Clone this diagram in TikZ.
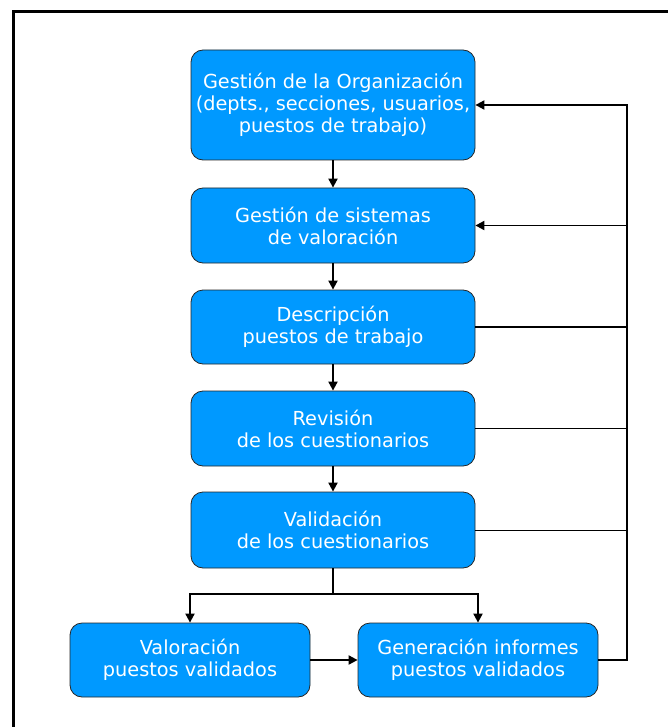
\documentclass[tikz,border=0pt]{standalone}
\usepackage{fontspec}
\setmainfont{DejaVu Sans}
\usetikzlibrary{arrows.meta}
\definecolor{boxblue}{RGB}{0,153,255}

\tikzset{
    proc/.style={draw=black!85, line width=0.8pt, fill=boxblue, rounded corners=12pt,
        text=white, align=center, font=\fontsize{19.3}{22}\selectfont,
        minimum width=284pt, inner sep=0pt},
    flow/.style={line width=1.9pt, -{Triangle[length=9pt,width=9pt]}},
    bus/.style={line width=1.9pt}
}

\begin{document}
\begin{tikzpicture}[x=1pt,y=-1pt]
    \useasboundingbox (0,0) rectangle (668,727);
    % Draw frame
    \draw [line width=3pt] (13,727) |- (668,12);
    % Draw boxes
    \node (org) [proc, minimum height=110pt] at (333,105)
        {Gestión de la Organización\\(depts., secciones, usuarios,\\puestos de trabajo)};
    \node (sist) [proc, minimum height=75pt] at (333,225.5)
        {Gestión de sistemas\\de valoración};
    \node (desc) [proc, minimum height=74pt] at (333,327)
        {Descripción\\puestos de trabajo};
    \node (rev) [proc, minimum height=75pt] at (333,428.5)
        {Revisión\\de los cuestionarios};
    \node (valid) [proc, minimum height=76pt] at (333,530)
        {Validación\\de los cuestionarios};
    \node (valor) [proc, minimum width=240pt, minimum height=74pt] at (190,660)
        {Valoración\\puestos validados};
    \node (infor) [proc, minimum width=240pt, minimum height=74pt] at (478,660)
        {Generación informes\\puestos validados};
    % Draw main chain
    \draw [flow] (org) -- (sist);
    \draw [flow] (sist) -- (desc);
    \draw [flow] (desc) -- (rev);
    \draw [flow] (rev) -- (valid);
    % Split below validation
    \coordinate (split) at (333,594);
    \draw [bus] (valid) -- (split);
    \draw [flow] (split) -| (valor.north);
    \draw [flow] (split) -| (infor.north);
    \draw [flow] (valor) -- (infor);
    % Draw feedback bus on the right
    \coordinate (top) at (627,105);
    \draw [flow] (infor.east) -| (top) -- (org.east);
    \draw [flow] (sist.east -| top) -- (sist.east);
    \draw [bus] (desc.east) -- (desc.east -| top);
    \draw [bus] (rev.east) -- (rev.east -| top);
    \draw [line width=0.8pt] (valid.east) -- (valid.east -| top);
\end{tikzpicture}
\end{document}
